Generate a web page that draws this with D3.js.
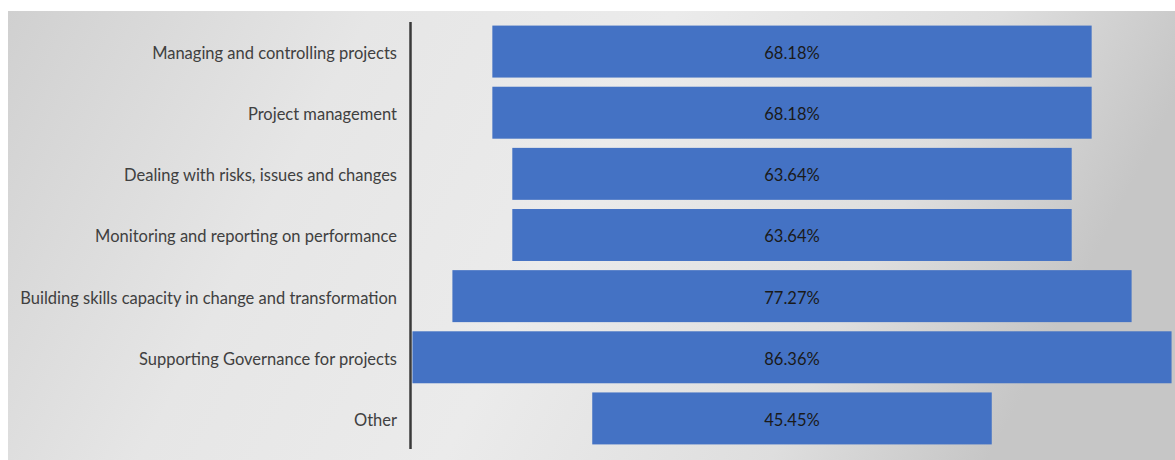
<!DOCTYPE html>
<html>
<head>
<meta charset="utf-8">
<script src="https://cdn.jsdelivr.net/npm/d3@7"></script>
<style>
  body { margin: 0; background: #fff; }
  svg { display: block; }
</style>
</head>
<body>
<div id="chart"></div>
<script>
var categories = [
  "Managing and controlling projects",
  "Project management",
  "Dealing with risks, issues and changes",
  "Monitoring and reporting on performance",
  "Building skills capacity in change and transformation",
  "Supporting Governance for projects",
  "Other"
];
var values = [68.18, 68.18, 63.64, 63.64, 77.27, 86.36, 45.45];

var width = 1175, height = 460;
var centerX = 792;

var svg = d3.select("#chart").append("svg")
    .attr("width", width).attr("height", height);

// background panel with soft gray gradient
var defs = svg.append("defs");
var grad = defs.append("linearGradient").attr("id", "bg")
    .attr("x1", "0%").attr("y1", "0%").attr("x2", "100%").attr("y2", "20%");
grad.append("stop").attr("offset", "0%").attr("stop-color", "#d0d0d0");
grad.append("stop").attr("offset", "30%").attr("stop-color", "#e6e6e6");
grad.append("stop").attr("offset", "55%").attr("stop-color", "#ebebeb");
grad.append("stop").attr("offset", "82%").attr("stop-color", "#dedede");
grad.append("stop").attr("offset", "100%").attr("stop-color", "#c6c6c6");

svg.append("rect")
    .attr("x", 8).attr("y", 11)
    .attr("width", width - 8).attr("height", height - 11)
    .attr("fill", "url(#bg)");

var x = d3.scaleLinear().domain([0, 100]).range([0, 879]);

var y = d3.scaleBand()
    .domain(categories)
    .range([21, 449])
    .paddingInner(0.15)
    .paddingOuter(0.075);

var rows = categories.map(function(c, i){ return {name: c, value: values[i]}; });

svg.selectAll("rect.bar")
    .data(rows)
  .enter().append("rect")
    .attr("class", "bar")
    .attr("x", function(d){ return centerX - x(d.value) / 2; })
    .attr("y", function(d){ return y(d.name); })
    .attr("width", function(d){ return x(d.value); })
    .attr("height", y.bandwidth())
    .attr("fill", "#4472c4");

// axis line
svg.append("line")
    .attr("x1", 410.5).attr("x2", 410.5)
    .attr("y1", 22).attr("y2", 449)
    .attr("stroke", "#3a3a3a").attr("stroke-width", 2.5);

svg.selectAll("text.cat")
    .data(rows)
  .enter().append("text")
    .attr("class", "cat")
    .attr("x", 397)
    .attr("y", function(d){ return y(d.name) + y.bandwidth() / 2; })
    .attr("dy", "0.45em")
    .attr("text-anchor", "end")
    .attr("font-family", "Lato, 'Open Sans', sans-serif")
    .attr("font-size", "16.5px")
    .attr("fill", "#404040")
    .text(function(d){ return d.name; });

svg.selectAll("text.val")
    .data(rows)
  .enter().append("text")
    .attr("class", "val")
    .attr("x", centerX)
    .attr("y", function(d){ return y(d.name) + y.bandwidth() / 2; })
    .attr("dy", "0.45em")
    .attr("text-anchor", "middle")
    .attr("font-family", "Lato, 'Open Sans', sans-serif")
    .attr("font-size", "16.5px")
    .attr("fill", "#1a1a1a")
    .text(function(d){ return d.value.toFixed(2) + "%"; });
</script>
</body>
</html>
